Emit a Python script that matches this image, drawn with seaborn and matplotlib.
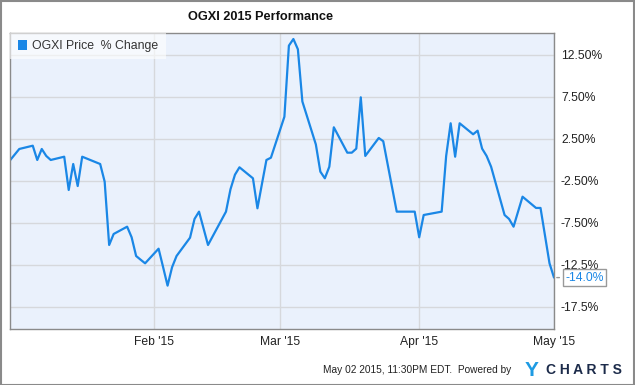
import pandas as pd
import numpy as np
import seaborn as sns
import matplotlib.pyplot as plt
import matplotlib.dates as mdates
from matplotlib.patches import Rectangle

# trading days and % change
dates = ['2014-12-31', '2015-01-02', '2015-01-05', '2015-01-06', '2015-01-07', '2015-01-08', '2015-01-09',
         '2015-01-12', '2015-01-13', '2015-01-14', '2015-01-15', '2015-01-16',
         '2015-01-20', '2015-01-21', '2015-01-22', '2015-01-23',
         '2015-01-26', '2015-01-27', '2015-01-28', '2015-01-29', '2015-01-30',
         '2015-02-02', '2015-02-03', '2015-02-04', '2015-02-05', '2015-02-06',
         '2015-02-09', '2015-02-10', '2015-02-11', '2015-02-12', '2015-02-13',
         '2015-02-17', '2015-02-18', '2015-02-19', '2015-02-20',
         '2015-02-23', '2015-02-24', '2015-02-25', '2015-02-26', '2015-02-27',
         '2015-03-02', '2015-03-03', '2015-03-04', '2015-03-05', '2015-03-06',
         '2015-03-09', '2015-03-10', '2015-03-11', '2015-03-12', '2015-03-13',
         '2015-03-16', '2015-03-17', '2015-03-18', '2015-03-19', '2015-03-20',
         '2015-03-23', '2015-03-24', '2015-03-25', '2015-03-26', '2015-03-27',
         '2015-03-30', '2015-03-31', '2015-04-01', '2015-04-02',
         '2015-04-06', '2015-04-07', '2015-04-08', '2015-04-09', '2015-04-10',
         '2015-04-13', '2015-04-14', '2015-04-15', '2015-04-16', '2015-04-17',
         '2015-04-20', '2015-04-21', '2015-04-22', '2015-04-23', '2015-04-24',
         '2015-04-27', '2015-04-28', '2015-04-29', '2015-04-30', '2015-05-01']
pct_change = [0.0, 1.31, 1.70, 0.0, 1.31, 0.48, 0.0,
              0.39, -3.57, -0.48, -3.10, 0.39,
              -0.48, -2.58, -10.12, -8.81,
              -7.94, -9.20, -11.43, -11.87, -12.30,
              -10.56, -12.74, -14.96, -12.77, -11.43,
              -9.25, -7.02, -6.15, -8.13, -10.12,
              -6.15, -3.49, -1.75, -0.87,
              -2.18, -5.75, -2.86, 0.0, 0.27,
              5.15, 13.61, 14.40, 13.18, 6.96,
              1.85, -1.39, -2.18, -0.80, 3.89,
              0.87, 0.87, 1.35, 7.46, 0.48,
              2.62, 2.23, -0.57, -3.36, -6.15,
              -6.15, -6.15, -9.20, -6.55,
              -6.15, 0.48, 4.37, 0.39, 4.37,
              3.06, 3.49, 1.35, 0.48, -0.80,
              -6.55, -7.02, -7.94, -6.15, -4.37,
              -5.71, -5.71, -9.01, -12.30, -14.0]

ytick_vals = [12.5, 7.5, 2.5, -2.5, -7.5, -12.5, -17.5]
ytick_labels = ['12.50%', '7.50%', '2.50%', '-2.50%', '-7.50%', '-12.5%', '-17.5%']
xtick_dates = ['2015-02-01', '2015-03-01', '2015-04-01', '2015-05-01']
xtick_labels = ["Feb '15", "Mar '15", "Apr '15", "May '15"]

df = pd.DataFrame({'date': pd.to_datetime(dates), 'pct': pct_change})

sns.set_style('white')
plt.rcParams['font.family'] = ['Liberation Sans', 'DejaVu Sans']

line_color = '#1a87e6'

fig = plt.figure(figsize=(6.35, 3.85), dpi=100)
ax = fig.add_axes([10.3 / 635, 1 - 329 / 385, (554 - 10.3) / 635, (329 - 33.3) / 385])
ax.set_facecolor('#eaf1fc')

sns.lineplot(data=df, x='date', y='pct', ax=ax, color=line_color, linewidth=1.6)

ax.set_xlim(pd.Timestamp('2014-12-31'), pd.Timestamp('2015-05-01'))
ax.set_ylim(-20.12, 15.08)
ax.set_xticks(pd.to_datetime(xtick_dates))
ax.set_xticklabels(xtick_labels)
ax.set_yticks(ytick_vals)
ax.set_yticklabels(ytick_labels)
ax.yaxis.tick_right()
ax.tick_params(axis='both', length=0, labelsize=8.7, colors='#222222')
ax.tick_params(axis='y', pad=5)
ax.tick_params(axis='x', pad=5)
ax.grid(True, color='#d6d8dc', linewidth=1)
ax.set_xlabel('')
ax.set_ylabel('')
for s in ax.spines.values():
    s.set_visible(True)
    s.set_color('#8a8a8a')
    s.set_linewidth(1)

# legend box
ax.add_patch(Rectangle((0, 0.912), 0.287, 0.088, transform=ax.transAxes,
                       facecolor='white', alpha=0.6, edgecolor='none', zorder=3))
ax.add_patch(Rectangle((0.015, 0.942), 0.016, 0.034, transform=ax.transAxes,
                       facecolor=line_color, edgecolor='none', zorder=4))
ax.text(0.04, 0.958, 'OGXI Price  % Change', transform=ax.transAxes, fontsize=8.8,
        color='#333333', va='center', ha='left', zorder=4)

# last value tag
last = df.iloc[-1]
ax.annotate('-14.0%', xy=(last['date'], last['pct']), xytext=(8, 0), textcoords='offset points',
            fontsize=8.7, color=line_color, va='center', ha='left', annotation_clip=False,
            bbox=dict(boxstyle='square,pad=0.2', facecolor='white', edgecolor='#999999', linewidth=1),
            arrowprops=dict(arrowstyle='-', color='#999999', linewidth=1))

fig.text(261 / 635, 1 - 17 / 385, 'OGXI 2015 Performance', fontsize=9.2, fontweight='bold',
         ha='center', va='center', color='#111111')
fig.text(323 / 635, 1 - 370 / 385, 'May 02 2015, 11:30PM EDT.  Powered by', fontsize=7.3,
         ha='left', va='center', color='#222222')
fig.text(525 / 635, 1 - 370 / 385, 'Y', fontsize=15, fontweight='bold', ha='left', va='center',
         color='#1e9be3')
fig.text(546 / 635, 1 - 370 / 385, 'C H A R T S', fontsize=10, fontweight='bold', ha='left',
         va='center', color='#1c2b4a')

fig.patches.append(Rectangle((0.001, 0.001), 0.998, 0.997, transform=fig.transFigure,
                             facecolor='none', edgecolor='#8a8a8a', linewidth=1.5))

plt.savefig('out.png', dpi=100)
plt.close()
